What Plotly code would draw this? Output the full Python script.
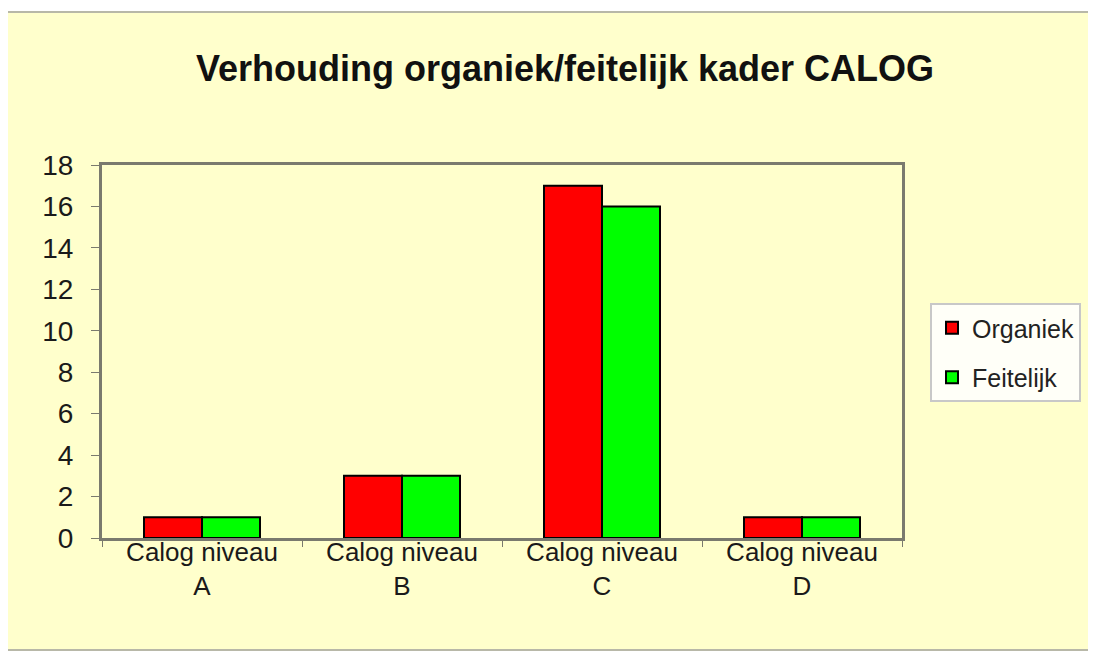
import plotly.graph_objects as go

# Values
categories = ["Calog niveau<br>A", "Calog niveau<br>B", "Calog niveau<br>C", "Calog niveau<br>D"]
organiek = [1, 3, 17, 1]
feitelijk = [1, 3, 16, 1]
y_ticks = [0, 2, 4, 6, 8, 10, 12, 14, 16, 18]

# the page puts the figure 8px in from the top-left corner
OFF = 8
W, H = 1096, 670
L, R, T, B = 102 - OFF, 194 + OFF, 165 - OFF, 132 + OFF
pw, ph = W - L - R, H - T - B


def px(x):
    return (x - OFF - L) / pw


def py(y):
    return (H - B - (y - OFF)) / ph


fig = go.Figure()
fig.add_trace(go.Bar(x=categories, y=organiek, name="Organiek", legendgroup="org",
                     marker=dict(color="#FF0000", line=dict(color="black", width=2))))
fig.add_trace(go.Bar(x=categories, y=feitelijk, name="Feitelijk", legendgroup="feit",
                     marker=dict(color="#00FF00", line=dict(color="black", width=2))))

# pale yellow chart area with its grey frame
fig.add_shape(type="rect", xref="paper", yref="paper", layer="below",
              x0=px(6), x1=px(1110), y0=py(650), y1=py(12),
              fillcolor="#FFFFCC", line=dict(color="#B8B8A8", width=2))
fig.add_shape(type="line", xref="paper", yref="paper", layer="below",
              x0=px(6), x1=px(6), y0=py(650), y1=py(12),
              line=dict(color="#9C9C88", width=3))

fig.update_layout(
    width=W, height=H,
    margin=dict(l=L, r=R, t=T, b=B),
    paper_bgcolor="white",
    plot_bgcolor="rgba(0,0,0,0)",
    barmode="group",
    bargap=0.42,
    bargroupgap=0,
    font=dict(family="Liberation Sans, Arial, sans-serif", color="#1a1a1a"),
    title=dict(text="<b>Verhouding organiek/feitelijk kader CALOG</b>",
               x=(565 - OFF) / W, xanchor="center", y=1 - (68 - OFF) / H, yanchor="middle",
               font=dict(size=36, color="#111111")),
    legend=dict(x=px(930), xanchor="left", y=py(303), yanchor="top",
                bgcolor="#FFFFF8", bordercolor="#C8C8C8", borderwidth=2,
                font=dict(size=25, color="#222222"),
                itemsizing="constant", tracegroupgap=14, itemwidth=30),
    showlegend=True,
)

fig.update_xaxes(
    showline=True, linecolor="#7A7A6E", linewidth=3, mirror=True,
    ticks="outside", tickson="boundaries", ticklen=6, tickcolor="#7A7A6E",
    tickfont=dict(size=26), showgrid=False, ticklabelstandoff=-11,
)
fig.update_yaxes(
    range=[0, 18], tickvals=y_ticks,
    showline=True, linecolor="#7A7A6E", linewidth=3, mirror=True,
    ticks="outside", ticklen=8, tickcolor="#7A7A6E",
    tickfont=dict(size=28), showgrid=False, zeroline=False,
    ticklabelstandoff=12,
)

fig.write_html("out.html")
